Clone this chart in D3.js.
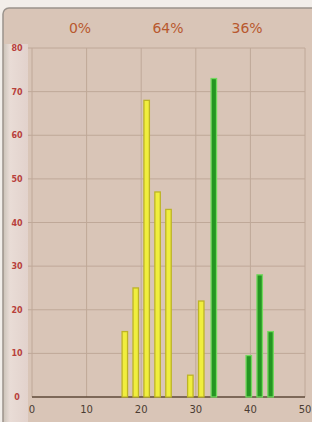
<!DOCTYPE html>
<html><head><meta charset="utf-8">
<script src="https://cdn.jsdelivr.net/npm/d3@7"></script>
<style>html,body{margin:0;padding:0;background:#fff;}svg{display:block;}</style>
</head><body>
<svg id="c" width="312" height="422"></svg>
<script>
// Data
const yellowBins = [17, 19, 21, 23, 25, 29, 31];
const yellowCounts = [15, 25, 68, 47, 43, 5, 22];
const greenBins = [33.3, 39.7, 41.7, 43.7];
const greenCounts = [73, 9.5, 28, 15];
const xTicks = [0, 10, 20, 30, 40, 50];
const yTicks = [0, 10, 20, 30, 40, 50, 60, 70, 80];
const pctLabels = ["0%", "64%", "36%"];
const pctAt = [8.8, 24.9, 39.4];

const svg = d3.select("#c");
// frame
svg.append("rect").attr("x",0).attr("y",0).attr("width",312).attr("height",422).attr("fill","#f2eeea");
svg.append("rect").attr("x",3).attr("y",8).attr("width",320).attr("height",430).attr("rx",6)
  .attr("fill","#d9c5b7").attr("stroke","#9a938c").attr("stroke-width",1.5);
// left strip
const grad = svg.append("defs").append("linearGradient").attr("id","lg").attr("x1","0").attr("x2","1");
grad.append("stop").attr("offset","0").attr("stop-color","#cfc6bc");
grad.append("stop").attr("offset","0.25").attr("stop-color","#e9dcd6");
grad.append("stop").attr("offset","1").attr("stop-color","#e2d2cc");
svg.append("rect").attr("x",4).attr("y",44).attr("width",24).attr("height",378).attr("fill","url(#lg)");

const x = d3.scaleLinear().domain([0,50]).range([32,305]);
const y = d3.scaleLinear().domain([0,80]).range([397,48]);

// grid
const g = svg.append("g");
g.selectAll("line.v").data(xTicks).join("line")
  .attr("x1",d=>x(d)).attr("x2",d=>x(d)).attr("y1",y(80)).attr("y2",y(0))
  .attr("stroke","#bfa898").attr("stroke-width",1);
g.selectAll("line.h").data(yTicks.filter(d=>d>0)).join("line")
  .attr("x1",x(0)-4).attr("x2",x(50)).attr("y1",d=>y(d)).attr("y2",d=>y(d))
  .attr("stroke","#bfa898").attr("stroke-width",1);
// baseline
svg.append("line").attr("x1",x(0)).attr("x2",x(50)).attr("y1",y(0)).attr("y2",y(0))
  .attr("stroke","#5e4838").attr("stroke-width",1.5);

const bw = x(1)-x(0);
svg.selectAll("rect.yb").data(yellowBins).join("rect")
  .attr("x",d=>x(d)-bw/2).attr("width",bw)
  .attr("y",(d,i)=>y(yellowCounts[i])).attr("height",(d,i)=>y(0)-y(yellowCounts[i]))
  .attr("fill","#f0ee3e").attr("stroke","#bdb426").attr("stroke-width",1.3);
svg.selectAll("rect.gb").data(greenBins).join("rect")
  .attr("x",d=>x(d)-bw/2).attr("width",bw)
  .attr("y",(d,i)=>y(greenCounts[i])).attr("height",(d,i)=>y(0)-y(greenCounts[i]))
  .attr("fill","#249622").attr("stroke","#72d85e").attr("stroke-width",1.3);

// y labels
svg.selectAll("text.yl").data(yTicks).join("text")
  .attr("x",17).attr("y",d=>y(d)+3).attr("text-anchor","middle")
  .attr("font-family","DejaVu Sans").attr("font-size",8).attr("font-weight","bold").attr("fill","#b8403c")
  .text(d=>d);
// x labels
svg.selectAll("text.xl").data(xTicks).join("text")
  .attr("x",d=>x(d)).attr("y",413).attr("text-anchor","middle")
  .attr("font-family","DejaVu Sans").attr("font-size",10).attr("fill","#4a3c32")
  .text(d=>d);
// percentages
svg.selectAll("text.pl").data(pctLabels).join("text")
  .attr("x",(d,i)=>x(pctAt[i])).attr("y",33).attr("text-anchor","middle")
  .attr("font-family","DejaVu Sans").attr("font-size",14).attr("fill","#b8582e")
  .text(d=>d);
</script>
</body></html>
